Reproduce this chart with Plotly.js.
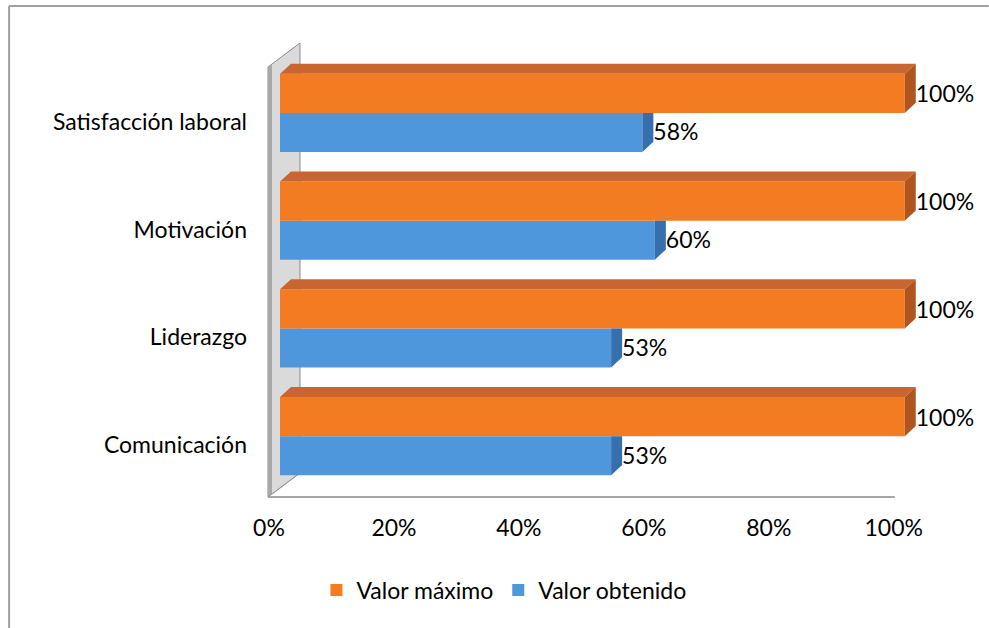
<!DOCTYPE html>
<html><head><meta charset="utf-8">
<script src="https://cdn.plot.ly/plotly-3.0.1.min.js"></script>
<style>html,body{margin:0;padding:0;background:#fff}#chart{width:989px;height:628px}</style>
</head><body><div id="chart"></div>
<script>
// ---- data ----
const categories = ["Comunicación", "Liderazgo", "Motivación", "Satisfacción laboral"];
const valorMaximo = [100, 100, 100, 100];
const valorObtenido = [53, 53, 60, 58];
const seriesNames = ["Valor máximo", "Valor obtenido"];
const xTickVals = [0, 20, 40, 60, 80, 100];
const xTickText = ["0%", "20%", "40%", "60%", "80%", "100%"];

// ---- layout geometry ----
const FW = 989, FH = 628;
const L = 280, T = 59, H = 431;
const XMAX = 105, PXU = 6.25;           // pixels per %
const W = XMAX * PXU;
const R = FW - L - W, B = FH - T - H;
const BAR = 0.362;                      // bar thickness (category units)
const DX = 1.76, DY = 0.093;            // 3-D depth offset (data units)
const FONT = "Lato, 'Open Sans', sans-serif";
const FS = 23;

const C_OR = '#F37B22', C_OR_TOP = '#C9652F', C_OR_SIDE = '#B0551F';
const C_BL = '#4F97DC', C_BL_SIDE = '#356FAE';

const pos = categories.map((c, i) => i);

function sideFace(vals, below) {
  const xs = [], ys = [];
  vals.forEach((v, i) => {
    const y0 = below ? i - BAR : i, y1 = below ? i : i + BAR;
    const yTop = below ? y1 : y1 + DY;
    xs.push(v, v + DX, v + DX, v, v, null);
    ys.push(y0, y0 + DY, yTop, y1, y0, null);
  });
  return {xs, ys};
}
function topFace(vals) {
  const xs = [], ys = [];
  vals.forEach((v, i) => {
    const y1 = i + BAR;
    xs.push(0, DX, v + DX, v, 0, null);
    ys.push(y1, y1 + DY, y1 + DY, y1, y1, null);
  });
  return {xs, ys};
}
const oSide = sideFace(valorMaximo, false), oTop = topFace(valorMaximo), bSide = sideFace(valorObtenido, true);

const traces = [
  {type: 'bar', orientation: 'h', name: seriesNames[1], x: valorObtenido, y: pos,
   marker: {color: C_BL, line: {width: 0}}, legendrank: 2, hoverinfo: 'skip'},
  {type: 'bar', orientation: 'h', name: seriesNames[0], x: valorMaximo, y: pos,
   marker: {color: C_OR, line: {width: 0}}, legendrank: 1, hoverinfo: 'skip'},
  {type: 'scatter', mode: 'lines', x: oTop.xs, y: oTop.ys, fill: 'toself', fillcolor: C_OR_TOP,
   line: {width: 0, color: C_OR_TOP}, showlegend: false, hoverinfo: 'skip'},
  {type: 'scatter', mode: 'lines', x: oSide.xs, y: oSide.ys, fill: 'toself', fillcolor: C_OR_SIDE,
   line: {width: 0, color: C_OR_SIDE}, showlegend: false, hoverinfo: 'skip'},
  {type: 'scatter', mode: 'lines', x: bSide.xs, y: bSide.ys, fill: 'toself', fillcolor: C_BL_SIDE,
   line: {width: 0, color: C_BL_SIDE}, showlegend: false, hoverinfo: 'skip'},
  {type: 'scatter', mode: 'text', x: valorMaximo.map(v => v + DX), y: pos.map(i => i + BAR / 2 - 0.03),
   text: valorMaximo.map(v => v + '%'), textposition: 'middle right',
   textfont: {family: FONT, size: FS, color: '#000'}, cliponaxis: false, showlegend: false, hoverinfo: 'skip'},
  {type: 'scatter', mode: 'text', x: valorObtenido.map(v => v + DX), y: pos.map(i => i - BAR / 2 - 0.02),
   text: valorObtenido.map(v => v + '%'), textposition: 'middle right',
   textfont: {family: FONT, size: FS, color: '#000'}, cliponaxis: false, showlegend: false, hoverinfo: 'skip'}
];

// pixel -> paper helpers (for decorative wall / frame)
const px = p => (p - L) / W;
const py = p => (T + H - p) / H;
function pathPx(pts) {
  return 'M' + pts.map(p => px(p[0]) + ',' + py(p[1])).join(' L') + ' Z';
}

const shapes = [
  // outer frame
  {type: 'line', xref: 'paper', yref: 'paper', x0: px(9), y0: py(6), x1: px(989), y1: py(6), line: {color: '#a0a0a0', width: 2}},
  {type: 'line', xref: 'paper', yref: 'paper', x0: px(9), y0: py(6), x1: px(9), y1: py(628), line: {color: '#a0a0a0', width: 2}},
  // side wall
  {type: 'path', xref: 'paper', yref: 'paper', layer: 'below',
   path: pathPx([[268, 67], [300, 43], [300, 473], [268, 497]]), fillcolor: '#dadada', line: {color: '#8a8a8a', width: 1}},
  {type: 'path', xref: 'paper', yref: 'paper', layer: 'below',
   path: pathPx([[268, 67], [272, 64], [272, 494], [268, 497]]), fillcolor: '#a8a8a8', line: {width: 0}},
  // floor front edge
  {type: 'line', xref: 'paper', yref: 'paper', layer: 'below', x0: px(268), y0: py(497), x1: px(895), y1: py(497), line: {color: '#a6a6a6', width: 2}},
  {type: 'line', xref: 'paper', yref: 'paper', layer: 'below', x0: px(268), y0: py(497), x1: px(300), y1: py(473), line: {color: '#9a9a9a', width: 1}}
];

const layout = {
  width: FW, height: FH,
  margin: {l: L, r: R, t: T, b: B, pad: 0},
  paper_bgcolor: '#fff', plot_bgcolor: 'rgba(0,0,0,0)',
  font: {family: FONT, size: FS, color: '#000'},
  barmode: 'group', bargap: 1 - 2 * BAR, bargroupgap: 0,
  showlegend: true,
  legend: {orientation: 'h', x: px(504), xanchor: 'center', y: py(590), yanchor: 'middle',
           font: {family: FONT, size: FS, color: '#000'}, traceorder: 'normal'},
  xaxis: {range: [0, XMAX], tickvals: xTickVals, ticktext: xTickText, showgrid: false, zeroline: false,
          showline: false, ticks: '', ticklabelstandoff: 22, ticklabelshift: -11, fixedrange: true},
  yaxis: {range: [-0.5, 3.5], tickvals: pos, ticktext: categories, showgrid: false, zeroline: false,
          showline: false, ticks: '', ticklabelstandoff: 32, ticklabelshift: 9, fixedrange: true},
  shapes: shapes
};

Plotly.newPlot('chart', traces, layout, {displayModeBar: false, staticPlot: true});
</script>
</body></html>
